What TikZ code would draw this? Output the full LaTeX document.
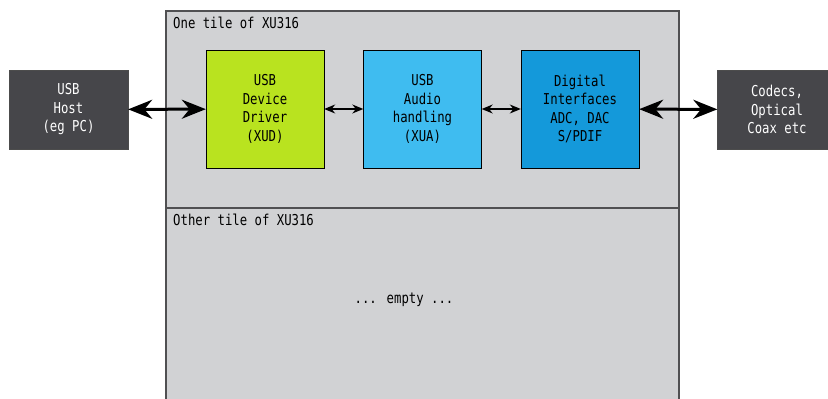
\documentclass[tikz,border=0pt]{standalone}
\usepackage{fontspec}
\usepackage{xcolor}
\usetikzlibrary{arrows.meta}
\newfontfamily\tilefont{DejaVu Sans Mono}[FakeStretch=0.82]

\definecolor{tilegray}{HTML}{D1D2D4}
\definecolor{tileedge}{HTML}{505052}
\definecolor{hostgray}{HTML}{46464A}
\definecolor{xudgreen}{HTML}{B9E31F}
\definecolor{xuablue}{HTML}{3FBCF0}
\definecolor{digblue}{HTML}{1499DA}

\begin{document}
\begin{tikzpicture}[
            x = 1pt, y = 1pt, % one unit per pixel
            font = \tilefont\fontsize{15}{18.5}\selectfont,
            block/.style = {shape=rectangle, draw=black, thin, inner sep=0pt,
                            minimum width=118pt, minimum height=118pt, align=center},
            outside/.style = {shape=rectangle, draw=black!70, thin, fill=hostgray, text=white,
                              inner sep=0pt, minimum width=119pt, minimum height=79pt, align=center},
            bigarrow/.style = {line width=3pt, {Stealth[length=24pt,width=19pt]}-{Stealth[length=24pt,width=19pt]}},
            smallarrow/.style = {line width=1.3pt, {Stealth[length=11pt,width=9pt]}-{Stealth[length=11pt,width=9pt]}}
        ]
\clip (0,0) rectangle (828,-399);

% the two tiles
\draw[fill=tilegray, draw=tileedge, line width=1.5pt] (166,-11) rectangle (679,-208);
\draw[fill=tilegray, draw=tileedge, line width=1.5pt] (166,-208) rectangle (679,-420);
\node[anchor=base west, inner sep=0pt] (tileone) at (173,-28) {One tile of XU316};
\node[anchor=base west, inner sep=0pt] (tiletwo) at (173,-225) {Other tile of XU316};
\node[anchor=base, inner sep=0pt] (empty) at (404,-303) {... empty ...};

\node[outside] (host) at (68.5,-109.5) {USB\\Host\\(eg PC)};
\node[block, fill=xudgreen] (xud) at (265,-109) {USB\\Device\\Driver\\(XUD)};
\node[block, fill=xuablue] (xua) at (422.5,-109) {USB\\Audio\\handling\\(XUA)};
\node[block, fill=digblue] (dig) at (580,-109) {Digital\\Interfaces\\ADC, DAC\\S/PDIF};
\node[outside] (codecs) at (777,-109.5) {Codecs,\\Optical\\Coax etc};

 \path [bigarrow] (host) edge (xud);
 \path [smallarrow] (xud) edge (xua);
 \path [smallarrow] (xua) edge (dig);
 \path [bigarrow] (dig) edge (codecs);
\end{tikzpicture}
\end{document}
